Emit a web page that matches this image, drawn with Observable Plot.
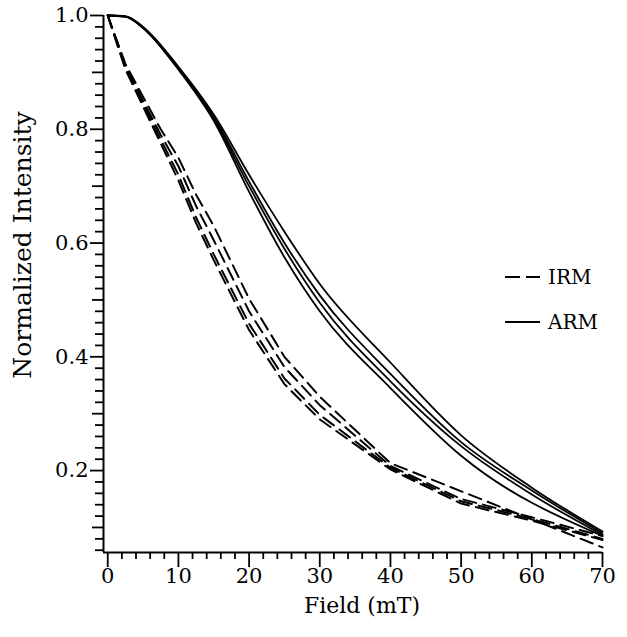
<!DOCTYPE html>
<html>
<head>
<meta charset="utf-8">
<script src="https://cdn.jsdelivr.net/npm/d3@7"></script>
<script src="https://cdn.jsdelivr.net/npm/@observablehq/plot@0.6"></script>
<style>
  html, body { margin: 0; padding: 0; background: #fff; }
  #wrap { position: relative; width: 627px; height: 637px; }
  #legend { position: absolute; left: 0; top: 0; width: 627px; height: 637px; pointer-events: none; }
</style>
</head>
<body>
<div id="wrap"><div id="chart"></div><svg id="legend" width="627" height="637"></svg></div>
<script>
// ---- data ----
const seriesNames = ["IRM", "ARM"];

// ARM curves (solid)
const armFields  = [0, 2.5, 5, 10, 15, 20, 25, 30, 40, 50, 60, 70];
const armFields1 = [0, 2.5, 5, 10, 15, 20, 25, 30, 40, 50, 70];
const arm1 = [1, 0.998, 0.978, 0.905, 0.815, 0.69, 0.575, 0.48, 0.345, 0.226, 0.085];
const arm2 = [1, 0.998, 0.978, 0.906, 0.818, 0.70, 0.59, 0.495, 0.357, 0.243, 0.158, 0.087];
const arm3 = [1, 0.998, 0.979, 0.908, 0.822, 0.708, 0.60, 0.508, 0.37, 0.25, 0.165, 0.09];
const arm4 = [1, 0.999, 0.98, 0.91, 0.826, 0.72, 0.62, 0.528, 0.39, 0.262, 0.17, 0.093];

// IRM curves (dashed)
const irmFields  = [0, 2.5, 5, 7.5, 10, 12.5, 15, 20, 25, 30, 40, 50, 60, 70];
const irmFields4 = [0, 2.5, 5, 7.5, 10, 12.5, 15, 20, 25, 30, 40, 70];
const irm1 = [1, 0.905, 0.84, 0.775, 0.71, 0.635, 0.57, 0.447, 0.352, 0.29, 0.202, 0.142, 0.112, 0.078];
const irm2 = [1, 0.908, 0.845, 0.782, 0.72, 0.645, 0.58, 0.458, 0.362, 0.298, 0.205, 0.146, 0.115, 0.08];
const irm3 = [1, 0.912, 0.85, 0.79, 0.735, 0.665, 0.605, 0.48, 0.382, 0.315, 0.208, 0.15, 0.118, 0.085];
const irm4 = [1, 0.915, 0.857, 0.80, 0.75, 0.685, 0.63, 0.502, 0.40, 0.33, 0.213, 0.065];

// ticks
const xMajorTicks = [0, 10, 20, 30, 40, 50, 60, 70];
const yMajorTicks = [0.2, 0.4, 0.6, 0.8, 1.0];
const yMidTicks = [0.1, 0.3, 0.5, 0.7, 0.9];
const xLabel = "Field (mT)";
const yLabel = "Normalized Intensity";

// ---- build long table ----
function rows(fields, vals, type, id) {
  return fields.map((f, i) => ({field: f, value: vals[i], type, id}));
}
const armRows = [
  ...rows(armFields1, arm1, "ARM", "a1"),
  ...rows(armFields, arm2, "ARM", "a2"),
  ...rows(armFields, arm3, "ARM", "a3"),
  ...rows(armFields, arm4, "ARM", "a4")
];
const irmRows = [
  ...rows(irmFields, irm1, "IRM", "i1"),
  ...rows(irmFields, irm2, "IRM", "i2"),
  ...rows(irmFields, irm3, "IRM", "i3"),
  ...rows(irmFields4, irm4, "IRM", "i4")
];

const xMinorTicks = d3.range(0, 71, 2).filter(d => d % 10 !== 0);
const yMinorTicks = d3.range(6, 100, 2).map(d => d / 100).filter(d => Math.round(d * 100) % 10 !== 0);

const font = "DejaVu Serif";

const chart = Plot.plot({
  width: 627,
  height: 637,
  marginLeft: 103,
  marginRight: 25,
  marginTop: 15,
  marginBottom: 85,
  style: {fontFamily: font, fontSize: "21px", color: "#000", background: "#fff"},
  x: {domain: [-0.6, 70]},
  y: {domain: [0.056, 1.0]},
  marks: [
    Plot.axisY(yMinorTicks, {tickSize: 8, tickFormat: () => "", strokeWidth: 1.8, label: null}),
    Plot.axisY(yMidTicks, {tickSize: 11, tickFormat: () => "", strokeWidth: 1.8, label: null}),
    Plot.axisY(yMajorTicks, {tickSize: 13, tickPadding: 2, tickFormat: d3.format(".1f"), strokeWidth: 1.8, label: null, fontSize: 21}),
    Plot.axisX(xMinorTicks, {tickSize: 7, tickFormat: () => "", strokeWidth: 1.8, label: null}),
    Plot.axisX(xMajorTicks, {tickSize: 15, tickPadding: 1, strokeWidth: 1.8, label: null, fontSize: 21}),
    Plot.ruleX([-0.6], {stroke: "#000", strokeWidth: 2}),
    Plot.ruleY([0.056], {stroke: "#000", strokeWidth: 2}),
    Plot.line(armRows, {x: "field", y: "value", z: "id", stroke: "#000", strokeWidth: 1.8, curve: "monotone-x"}),
    Plot.line(irmRows, {x: "field", y: "value", z: "id", stroke: "#000", strokeWidth: 2, strokeDasharray: "13,7", curve: "linear"}),
    Plot.text([xLabel], {frameAnchor: "bottom", dy: 60, dx: 9, fontSize: 22, fill: "#000"}),
    Plot.text([yLabel], {frameAnchor: "left", textAnchor: "middle", dx: -81, dy: -39, rotate: -90, fontSize: 25, fill: "#000"})
  ]
});
document.getElementById("chart").appendChild(chart);

// ---- legend (overlay) ----
const lg = d3.select("#legend");
const legendItems = [
  {name: seriesNames[0], dash: "15,6", y: 277},
  {name: seriesNames[1], dash: null, y: 322}
];
legendItems.forEach(it => {
  lg.append("line").attr("x1", 505).attr("x2", 540).attr("y1", it.y).attr("y2", it.y)
    .attr("stroke", "#000").attr("stroke-width", 2).attr("stroke-dasharray", it.dash);
  lg.append("text").attr("x", 548).attr("y", it.y).attr("dy", "0.35em")
    .attr("font-family", font).attr("font-size", 20).attr("fill", "#000").text(it.name);
});
</script>
</body>
</html>
